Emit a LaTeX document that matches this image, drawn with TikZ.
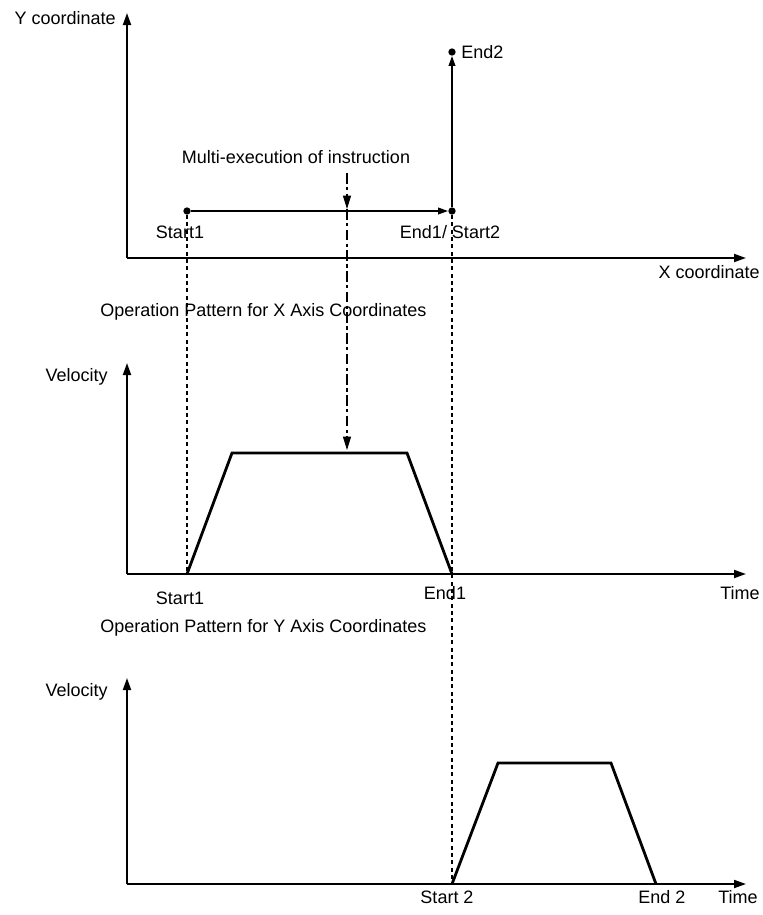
\documentclass[tikz,border=0pt]{standalone}
\usepackage{fontspec}
\setmainfont{Liberation Sans}
\usetikzlibrary{arrows.meta}
\tikzset{
  axis/.style={-{Triangle[length=9pt,width=6pt]}, line width=1.4pt},
  move/.style={-{Triangle[length=7.5pt,width=5pt]}, line width=1.2pt},
  profile/.style={line width=2.1pt, line join=miter},
  guide/.style={dash pattern=on 3pt off 2.5pt, line width=0.85pt},
  cmdline/.style={-{Triangle[length=10pt,width=6pt]}, dash pattern=on 8pt off 2.5pt on 2.5pt off 2.5pt, line width=0.85pt},
  dot/.style={circle, fill=black, inner sep=0pt, minimum size=5.5pt},
  lbl/.style={font=\fontsize{13.5}{16}\selectfont, inner sep=0pt},
}

\begin{document}
\begin{tikzpicture}[x=0.75pt, y=-0.75pt]
  \useasboundingbox (0,0) rectangle (763,915);

  %% XY plane
  \coordinate (xyorg) at (127,258);
  \coordinate (ytip)  at (127,13);
  \coordinate (xtip)  at (746,258);
  \draw[axis] (xyorg) -- (ytip);
  \draw[axis] (xyorg) -- (xtip);
  \node[lbl, anchor=east] (ylab) at (116,18) {Y coordinate};
  \node[lbl, anchor=east] (xlab) at (760,272) {X coordinate};

  \node[dot] (start1) at (187,211) {};
  \node[dot] (end1)   at (452,211) {};
  \node[dot] (end2)   at (452,52) {};
  \draw[move] (start1) -- (end1);
  \draw[move] (end1) -- (end2);
  \node[lbl, anchor=west] (end2lab) at (461,52) {End2};
  \node[lbl] (start1lab) at (180,232) {Start1};
  \node[lbl] (end1lab) at (450,232) {End1/ Start2};

  \node[lbl] (multi) at (296,157) {Multi-execution of instruction};
  \coordinate (cmdtop) at (347,173);
  \coordinate (cmdhit) at (347,209);
  \coordinate (cmdbot) at (347,450);
  \draw[cmdline] (cmdtop) -- (cmdhit);
  \draw[cmdline] (cmdhit) -- (cmdbot);

  %% X axis pattern
  \node[lbl, anchor=west] (xtitle) at (100,312) {Operation Pattern for X Axis Coordinates};
  \coordinate (xvorg) at (127,574);
  \draw[axis] (xvorg) -- (127,363);
  \draw[axis] (xvorg) -- (746,574);
  \node[lbl, anchor=east] (xvel) at (108,377) {Velocity};
  \node[lbl, anchor=east] (xtime) at (760,593) {Time};
  \coordinate (xs) at (187,574);
  \coordinate (xe) at (452,574);
  \draw[profile] (xs) -- (232,453) -- (407,453) -- (xe);
  \node[lbl] (xslab) at (180,598) {Start1};
  \node[lbl] (xelab) at (445,593) {End1};

  %% Y axis pattern
  \node[lbl, anchor=west] (ytitle) at (100,628) {Operation Pattern for Y Axis Coordinates};
  \coordinate (yvorg) at (127,884);
  \draw[axis] (yvorg) -- (127,678);
  \draw[axis] (yvorg) -- (746,884);
  \node[lbl, anchor=east] (yvel) at (108,692) {Velocity};
  \node[lbl, anchor=east] (ytime) at (758,897) {Time};
  \coordinate (ys) at (452,884);
  \coordinate (ye) at (656,884);
  \draw[profile] (ys) -- (498,763) -- (611,763) -- (ye);
  \node[lbl] (yslab) at (447,897) {Start 2};
  \node[lbl] (yelab) at (662,897) {End 2};

  %% guide lines
  \draw[guide] (start1) -- (xs);
  \draw[guide] (end1) -- (ys);
\end{tikzpicture}
\end{document}
